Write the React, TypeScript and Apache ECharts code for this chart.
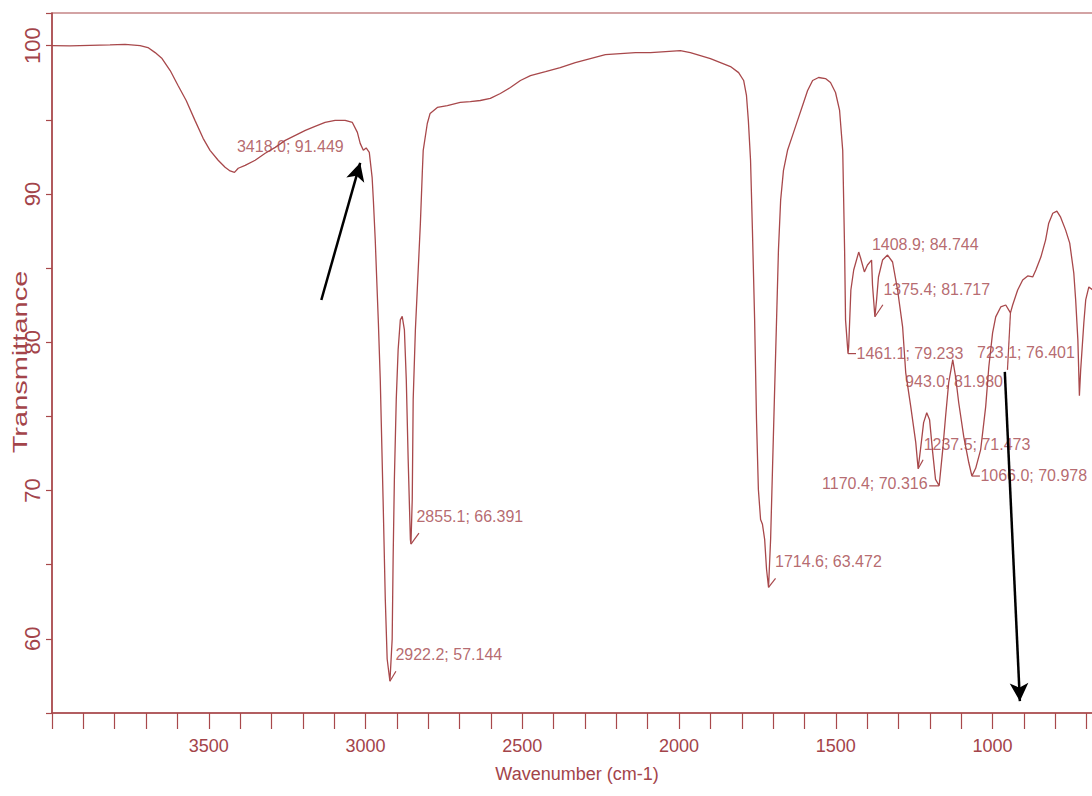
import React, { useEffect, useRef } from "react";
import * as echarts from "echarts";

// Spectrum
const wavenumber = [
  4000, 3943, 3879, 3815, 3767, 3719, 3694, 3671, 3649, 3623, 3598, 3572, 3544, 3518, 3496, 3470, 3448, 3432, 3418, 3406,
  3384, 3352, 3320, 3288, 3256, 3224, 3192, 3161, 3129, 3097, 3065, 3042, 3026, 3017, 3007, 2998, 2988, 2979, 2975, 2969,
  2963, 2959, 2953, 2944, 2937, 2931, 2922.2, 2915, 2912, 2908, 2902, 2896, 2889, 2883, 2876, 2870, 2864, 2857, 2855.1, 2851,
  2848, 2841, 2835, 2825, 2819, 2816, 2803, 2794, 2771, 2739, 2698, 2666, 2634, 2602, 2570, 2538, 2506, 2474, 2426, 2379,
  2331, 2283, 2235, 2187, 2139, 2091, 2043, 1996, 1964, 1932, 1900, 1868, 1836, 1810, 1794, 1785, 1779, 1772, 1766, 1759,
  1753, 1747, 1740, 1734, 1727, 1721, 1714.6, 1708, 1702, 1696, 1689, 1683, 1676, 1667, 1654, 1638, 1622, 1606, 1590, 1574,
  1555, 1533, 1517, 1501, 1488, 1478, 1472, 1469, 1461.1, 1459, 1452, 1443, 1427, 1421, 1408.9, 1399, 1386, 1383, 1375.4, 1370,
  1364, 1351, 1335, 1319, 1303, 1287, 1277, 1261, 1245, 1237.5, 1230, 1220, 1210, 1201, 1191, 1182, 1170.4, 1159, 1150, 1140,
  1127, 1118, 1108, 1092, 1076, 1066, 1054, 1038, 1022, 1012, 1000, 990, 974, 958, 943, 936, 920, 904, 888, 872,
  862, 846, 831, 821, 808, 795, 783, 767, 754, 741, 735, 728, 723.1, 719, 709, 703, 693, 680,
];
const transmittance = [
  100.0, 99.98, 100.02, 100.05, 100.08, 100.0, 99.87, 99.53, 99.13, 98.32, 97.31, 96.3, 94.96, 93.75, 92.94, 92.27, 91.8, 91.55, 91.45, 91.73,
  91.93, 92.27, 92.74, 93.14, 93.61, 93.95, 94.28, 94.55, 94.82, 94.96, 94.96, 94.82, 94.15, 93.41, 92.95, 93.1, 92.8, 91.12, 89.58, 86.89,
  83.52, 81.3, 77.47, 69.4, 62.68, 58.64, 57.14, 59.98, 65.37, 70.75, 76.13, 79.49, 81.51, 81.75, 80.83, 77.47, 72.09, 66.71, 66.39, 69.4,
  76.13, 80.83, 83.52, 88.03, 91.39, 92.94, 94.75, 95.43, 95.83, 95.96, 96.17, 96.23, 96.3, 96.44, 96.77, 97.18, 97.65, 97.98, 98.25, 98.52,
  98.86, 99.13, 99.39, 99.46, 99.53, 99.53, 99.6, 99.66, 99.53, 99.33, 99.13, 98.86, 98.59, 98.18, 97.65, 96.64, 94.96, 92.27, 87.56, 81.51,
  74.78, 70.07, 68.05, 67.72, 66.71, 64.69, 63.47, 66.71, 71.42, 76.13, 81.51, 86.21, 89.58, 91.59, 92.94, 93.95, 94.96, 95.96, 96.97, 97.65,
  97.85, 97.78, 97.51, 96.84, 95.63, 92.94, 86.21, 81.51, 79.23, 79.7, 83.52, 84.87, 86.08, 85.68, 84.74, 85.21, 85.54, 83.86, 81.72, 82.85,
  84.4, 85.54, 85.88, 85.41, 83.52, 81.04, 77.94, 75.66, 73.23, 71.47, 72.76, 74.58, 75.25, 74.78, 72.56, 70.75, 70.32, 72.76, 74.98, 77.27,
  78.82, 77.67, 75.92, 73.64, 71.89, 70.98, 71.5, 72.76, 75.66, 78.35, 80.63, 81.71, 82.38, 82.51, 81.98, 82.51, 83.52, 84.2, 84.47, 84.4,
  84.87, 85.74, 86.89, 88.03, 88.7, 88.84, 88.43, 87.56, 86.68, 84.67, 82.85, 80.16, 76.4, 78.14, 81.3, 82.85, 83.73, 83.52,
];

// Peak annotations
const peakWavenumber = [3418.0, 2922.2, 2855.1, 1714.6, 1461.1, 1408.9, 1375.4, 1237.5, 1170.4, 1066.0, 943.0, 723.1];
const peakTransmittance = [91.449, 57.144, 66.391, 63.472, 79.233, 84.744, 81.717, 71.473, 70.316, 70.978, 81.98, 76.401];

// Arrows (data coordinates): tail -> head
const arrowTailWavenumber = [3141, 961];
const arrowTailTransmittance = [82.85, 78.0];
const arrowHeadWavenumber = [3017, 913];
const arrowHeadTransmittance = [92.1, 55.8];

// Tick labels
const xTickLabels = [3500, 3000, 2500, 2000, 1500, 1000];
const yTickLabels = [60, 70, 80, 90, 100];

// Layout of the peak labels (pixel offsets from the peak) and their connectors
const labelOffset: [number, number, string][] = [
  [3, -25, "left"],
  [6, -26, "left"],
  [6, -27, "left"],
  [7, -25, "left"],
  [9, 0, "left"],
  [8, -27, "left"],
  [9, -27, "left"],
  [6, -24, "left"],
  [-11, -2, "right"],
  [9, 0, "left"],
  [-7, 69, "right"],
  [-4, -43, "right"],
];
const connectorOffset: ([number, number] | null)[] = [
  null, [6, -10], [8, -11], [7, -9], [8, 0], null, [8, -12], [5, -9], [-10, 0], [8, 0], [-3, 57], null,
];

const RED = "#a8484b";
const TEXT = "#a3444a";
const SANS = '"Liberation Sans", Arial, sans-serif';

export default function App() {
  const ref = useRef<HTMLDivElement>(null);
  useEffect(() => {
    document.body.style.margin = "0";
    if (!ref.current) return;
    const chart = echarts.init(ref.current, undefined, { renderer: "svg" });
    const lineData = wavenumber.map((w, i) => [w, transmittance[i]]);
    const peakData = peakWavenumber.map((w, i) => ({
      value: [w, peakTransmittance[i]],
      label: {
        show: true,
        formatter: `${w.toFixed(1)}; ${peakTransmittance[i].toFixed(3)}`,
        position: [labelOffset[i][0], labelOffset[i][1]],
        align: labelOffset[i][2],
        verticalAlign: "middle",
      },
    }));
    const arrows = arrowTailWavenumber.map((w, i) => [
      { coord: [w, arrowTailTransmittance[i]], symbol: "none" },
      { coord: [arrowHeadWavenumber[i], arrowHeadTransmittance[i]], symbol: "arrow" },
    ]);
    const titleY = {
      type: "text",
      x: 20,
      y: 362,
      rotation: Math.PI / 2,
      scaleX: 1.45,
      silent: true,
      style: {
        text: "Transmittance",
        fill: TEXT,
        font: `20px ${SANS}`,
        align: "center",
        verticalAlign: "middle",
      },
    };
    chart.setOption({
      animation: false,
      backgroundColor: "#ffffff",
      grid: {
        left: 52,
        right: 0,
        top: 13,
        bottom: 83,
        show: true,
        borderColor: RED,
        borderWidth: 1.2,
        backgroundColor: "transparent",
        outerBoundsMode: "none",
      },
      xAxis: {
        type: "value",
        inverse: true,
        min: 600,
        max: 4000,
        interval: 100,
        name: "Wavenumber (cm-1)",
        nameLocation: "middle",
        nameGap: 52,
        nameTextStyle: { color: TEXT, fontSize: 18, fontFamily: SANS, padding: [0, 16, 0, 0] },
        axisLine: { lineStyle: { color: RED, width: 1.5 } },
        axisTick: { length: 16, lineStyle: { color: RED, width: 1.2 } },
        axisLabel: {
          margin: 24,
          color: TEXT,
          fontSize: 18,
          fontFamily: SANS,
          formatter: (v: number) => (xTickLabels.includes(Math.round(v)) ? String(Math.round(v)) : ""),
        },
        splitLine: { show: false },
      },
      yAxis: {
        type: "value",
        min: 55,
        max: 102.2,
        interval: 5,
        axisLine: { show: true, lineStyle: { color: RED, width: 1.5 } },
        axisTick: { show: true, length: 6, lineStyle: { color: RED, width: 1.2 } },
        axisLabel: {
          rotate: 90,
          margin: 9,
          color: TEXT,
          fontSize: 22,
          fontFamily: SANS,
          formatter: (v: number) => (yTickLabels.includes(Math.round(v * 10) / 10) ? String(v) : ""),
        },
        splitLine: { show: false },
      },
      graphic: [titleY],
      series: [
        {
          type: "line",
          data: lineData,
          showSymbol: false,
          symbol: "none",
          lineStyle: { color: RED, width: 1.3 },
          silent: true,
          markLine: {
            silent: true,
            symbolSize: [14, 18],
            label: { show: false },
            lineStyle: { color: "#000000", width: 2.5, type: "solid" },
            data: arrows,
          },
        },
        {
          type: "scatter",
          data: peakData,
          symbolSize: 1,
          itemStyle: { color: "rgba(0,0,0,0)" },
          silent: true,
          label: { color: TEXT, fontSize: 16, fontFamily: SANS },
        },
      ],
    });
    const connectors: any[] = [];
    peakWavenumber.forEach((w, i) => {
      const c = connectorOffset[i];
      if (!c) return;
      const p = chart.convertToPixel({ gridIndex: 0 }, [w, peakTransmittance[i]]) as number[];
      connectors.push({
        type: "line",
        silent: true,
        shape: { x1: p[0], y1: p[1], x2: p[0] + c[0], y2: p[1] + c[1] },
        style: { stroke: RED, lineWidth: 1.2 },
      });
    });
    chart.setOption({ graphic: [titleY, ...connectors] });
    return () => chart.dispose();
  }, []);
  return (
    <div style={{ width: 1092, height: 796, overflow: "hidden", position: "relative", background: "#fff" }}>
      <div ref={ref} style={{ width: 1118, height: 796 }} />
    </div>
  );
}
